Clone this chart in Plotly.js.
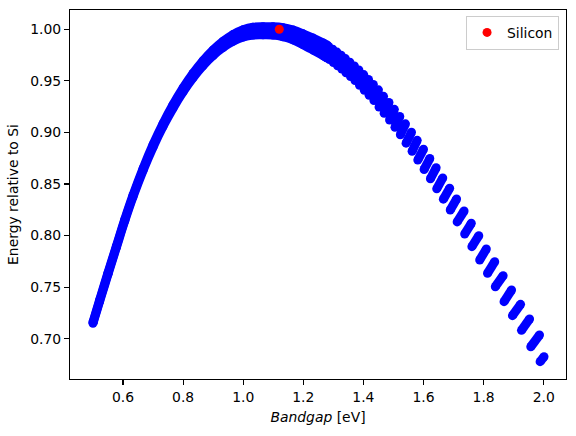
<!DOCTYPE html>
<html>
<head>
<meta charset="utf-8">
<script src="https://cdn.plot.ly/plotly-3.0.1.min.js"></script>
<style>html,body{margin:0;padding:0;background:#fff;}#chart{width:576px;height:436px;}</style>
</head>
<body>
<div id="chart"></div>
<script>
// Dense part of the curve (x < ~1.28): centre lines of the upper and lower edge of the band of points
const band_x   = [0.500,0.522,0.550,0.578,0.606,0.633,0.667,0.700,0.733,0.766,0.800,0.833,0.866,0.900,0.933,0.966,1.000,1.033,1.066,1.099,1.132,1.166,1.199,1.232,1.266,1.280];
const band_top = [0.7160,0.7372,0.7638,0.7898,0.8157,0.8388,0.8652,0.8882,0.9085,0.9266,0.9431,0.9572,0.9694,0.9799,0.9883,0.9949,0.9996,1.0020,1.0024,1.0024,1.0016,0.9992,0.9956,0.9915,0.9867,0.9845];
const band_bot = [0.7150,0.7360,0.7626,0.7886,0.8144,0.8373,0.8633,0.8858,0.9057,0.9233,0.9394,0.9530,0.9647,0.9746,0.9824,0.9884,0.9925,0.9944,0.9946,0.9944,0.9928,0.9897,0.9851,0.9800,0.9745,0.9720];

// Step ("sawtooth") part: each group of points runs from (x0,y0) to (x1,y1)
const tooth_x0 = [1.272,1.287,1.300,1.314,1.328,1.342,1.357,1.372,1.387,1.403,1.419,1.435,1.452,1.469,1.487,1.505,1.523,1.542,1.562,1.581,1.602,1.623,1.644,1.666,1.689,1.712,1.737,1.761,1.787,1.813,1.839,1.868,1.896,1.926,1.957,1.988];
const tooth_x1 = [1.285,1.298,1.312,1.326,1.340,1.355,1.370,1.385,1.401,1.417,1.433,1.450,1.467,1.485,1.503,1.521,1.540,1.560,1.579,1.600,1.621,1.642,1.664,1.687,1.710,1.735,1.759,1.784,1.809,1.837,1.865,1.893,1.923,1.953,1.986,2.001];
const tooth_y0 = [0.9732,0.9706,0.9677,0.9646,0.9614,0.9578,0.9542,0.9503,0.9457,0.9409,0.9361,0.9309,0.9246,0.9186,0.9120,0.9049,0.8977,0.8896,0.8817,0.8732,0.8641,0.8551,0.8453,0.8353,0.8248,0.8132,0.8015,0.7892,0.7763,0.7634,0.7504,0.7359,0.7223,0.7081,0.6922,0.6777];
const tooth_y1 = [0.9832,0.9806,0.9779,0.9748,0.9716,0.9680,0.9644,0.9605,0.9561,0.9513,0.9465,0.9413,0.9350,0.9290,0.9224,0.9155,0.9083,0.9002,0.8923,0.8838,0.8747,0.8657,0.8559,0.8459,0.8354,0.8238,0.8119,0.7999,0.7870,0.7747,0.7611,0.7472,0.7333,0.7191,0.7036,0.6825];

// Silicon reference point
const si_x = [1.12];
const si_y = [1.0];

// Ticks
const x_ticks = [0.6,0.8,1.0,1.2,1.4,1.6,1.8,2.0];
const x_ticklabels = ['0.6','0.8','1.0','1.2','1.4','1.6','1.8','2.0'];
const y_ticks = [0.70,0.75,0.80,0.85,0.90,0.95,1.00];
const y_ticklabels = ['0.70','0.75','0.80','0.85','0.90','0.95','1.00'];

const BLUE = '#0000ff';
const MS = 9;

const tx = [], ty = [];
for (let k = 0; k < tooth_x0.length; k++) {
  tx.push(tooth_x0[k], tooth_x1[k], null);
  ty.push(tooth_y0[k], tooth_y1[k], null);
}

const traces = [
  {x: band_x, y: band_top, mode: 'lines+markers', line: {color: BLUE, width: MS, shape: 'spline', smoothing: 1}, marker: {color: BLUE, size: MS}, showlegend: false, hoverinfo: 'skip'},
  {x: band_x, y: band_bot, mode: 'lines+markers', line: {color: BLUE, width: MS, shape: 'spline', smoothing: 1}, marker: {color: BLUE, size: MS}, fill: 'tonexty', fillcolor: BLUE, showlegend: false, hoverinfo: 'skip'},
  {x: tx, y: ty, mode: 'lines+markers', line: {color: BLUE, width: MS}, marker: {color: BLUE, size: MS}, connectgaps: false, showlegend: false, hoverinfo: 'skip'},
  {x: si_x, y: si_y, mode: 'markers', name: 'Silicon', marker: {color: '#ff0000', size: MS}}
];

const font = {family: 'DejaVu Sans, sans-serif', size: 13.9, color: '#000'};

const axisCommon = {
  showline: true, mirror: true, linecolor: '#000', linewidth: 1.1,
  ticks: 'outside', ticklen: 5, tickwidth: 1.1, tickcolor: '#000',
  showgrid: false, zeroline: false, automargin: false,
  tickfont: font
};

const layout = {
  width: 576, height: 436,
  margin: {l: 70, r: 10, t: 10, b: 57, pad: 0},
  paper_bgcolor: '#fff', plot_bgcolor: '#fff',
  font: font,
  xaxis: Object.assign({}, axisCommon, {
    range: [0.4236, 2.0742], tickmode: 'array', tickvals: x_ticks, ticktext: x_ticklabels,
    title: {text: '<i>Bandgap</i> [eV]', font: font, standoff: 8}
  }),
  yaxis: Object.assign({}, axisCommon, {
    range: [0.66091, 1.01871], tickmode: 'array', tickvals: y_ticks, ticktext: y_ticklabels,
    title: {text: 'Energy relative to Si', font: font, standoff: 8}
  }),
  legend: {
    x: 0.986, y: 0.984, xanchor: 'right', yanchor: 'top',
    bgcolor: 'rgba(255,255,255,0.8)', bordercolor: '#cccccc', borderwidth: 1,
    font: font
  },
  showlegend: true
};

Plotly.newPlot('chart', traces, layout, {staticPlot: true, displayModeBar: false});
</script>
</body>
</html>
